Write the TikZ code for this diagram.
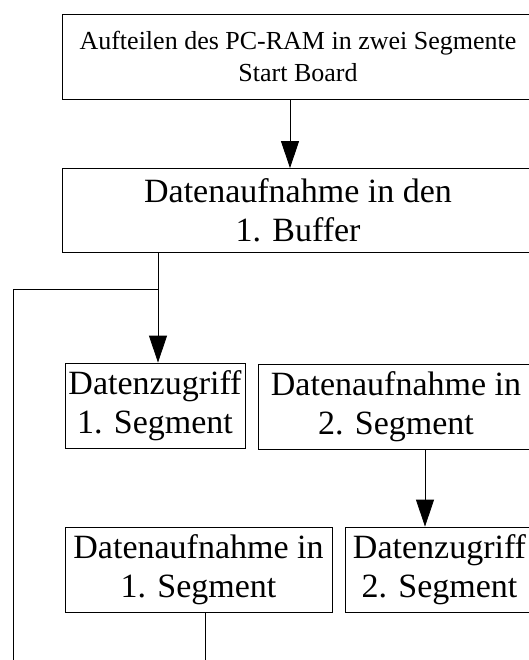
\documentclass[tikz,border=0pt]{standalone}
\usepackage{fontspec}
\setmainfont{Liberation Serif}
\usetikzlibrary{arrows.meta}

\begin{document}
\begin{tikzpicture}[x = 1pt, y = -1pt,
		box/.style = {draw, line width = 0.8pt, inner sep = 0pt, minimum height = 85pt, align = center, font = \fontsize{34}{39}\selectfont},
		flow/.style = {line width = 0.8pt, -{Triangle[length = 27pt, width = 18pt]}}]
			\useasboundingbox (0, 0) rectangle (528, 660);
			
			\node[box, minimum width = 472pt, font = \fontsize{26}{32}\selectfont] (start) at (298, 56.5) {Aufteilen des PC-RAM in zwei Segmente\\Start Board};
			\node[box, minimum width = 472pt, minimum height = 84pt] (buffer) at (298, 210.5) {Datenaufnahme in den\\1. Buffer};
			
			\node[box, minimum width = 180pt] (zugriffA) at (155, 405.5) {Datenzugriff\\1. Segment};
			\node[box, minimum width = 276pt] (aufnahmeB) at (396, 406.5) {Datenaufnahme in\\2. Segment};
			\node[box, minimum width = 267pt] (aufnahmeA) at (198.5, 569.5) {Datenaufnahme in\\1. Segment};
			\node[box, minimum width = 189pt] (zugriffB) at (439.5, 569.5) {Datenzugriff\\2. Segment};
			
			\coordinate (split) at (158, 289);
			\coordinate (back) at (13, 670);
			\coordinate (down) at (205, 670);
			
			\draw[flow] ([xshift = -8pt]start.south) -- ([xshift = -8pt]buffer.north);
			
			% Verzweigung unter dem Buffer, Ruecklauf links
			\draw[line width = 0.8pt] (split |- buffer.south) -- (split) -- (split -| back) -- (back);
			\draw[flow] (split) -- (split |- zugriffA.north);
			
			\draw[flow] ([xshift = 29pt]aufnahmeB.south) -- ([xshift = 29pt]aufnahmeB.south |- zugriffB.north);
			\draw[line width = 0.8pt] (aufnahmeA.south -| down) -- (down);
		\end{tikzpicture}
\end{document}
